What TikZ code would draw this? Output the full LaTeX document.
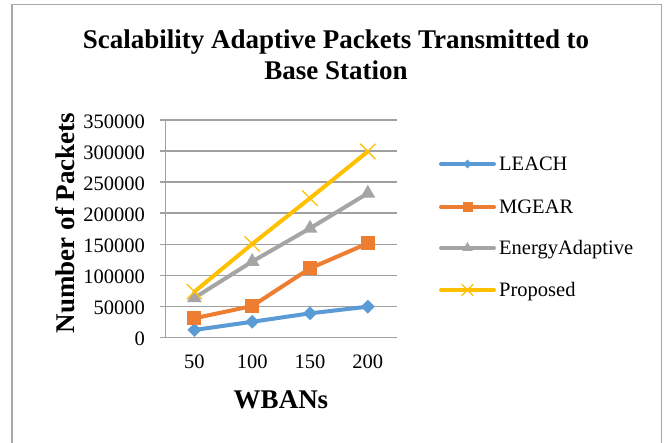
\documentclass[tikz,border=0pt]{standalone}
\usepackage{fontspec}
\setmainfont{Liberation Serif}
\usetikzlibrary{shapes.geometric,shapes.misc}
\definecolor{cblue}{HTML}{5B9BD5}
\definecolor{corange}{HTML}{ED7D31}
\definecolor{cgray}{HTML}{A5A5A5}
\definecolor{cyellow}{HTML}{FFC000}
\definecolor{gridc}{HTML}{A0A0A0}
\definecolor{framec}{HTML}{A8A8A8}
\tikzset{
  lbl/.style={inner sep=0pt,font=\fontsize{20.5bp}{24bp}\selectfont},
  ttl/.style={inner sep=0pt,font=\fontsize{27bp}{31bp}\selectfont\bfseries},
  gridline/.style={draw=gridc,line width=1.3bp},
  series/.style={line width=4bp,line join=round,line cap=round},
  mdia/.style={diamond,fill=cblue,inner sep=0pt,minimum width=#1,minimum height=#1},
  msq/.style={rectangle,fill=corange,inner sep=0pt,minimum size=#1},
  mtri/.style={regular polygon,regular polygon sides=3,fill=cgray,inner sep=0pt,minimum size=#1},
  mcross/.style={cross out,draw=cyellow,line width=1.3bp,inner sep=0pt,minimum size=#1},
}
\begin{document}
\begin{tikzpicture}[x=1bp,y=-1bp]
\useasboundingbox (0,0) rectangle (664,443);
\fill[white] (0,0) rectangle (664,443);
% frame
\draw[framec,line width=1.5bp] (12,443) -- (12,4.3) -- (661.7,4.3) -- (661.7,443);
% title
\node[ttl,anchor=base] (t1) at (336,49) {Scalability Adaptive Packets Transmitted to};
\node[ttl,anchor=base] (t2) at (336,80) {Base Station};
% grid and y labels
\foreach \k/\t in {0/0,1/50000,2/100000,3/150000,4/200000,5/250000,6/300000,7/350000}{
  \pgfmathsetmacro{\yy}{337.3-\k*31.04}
  \draw[gridline] (160,\yy) -- (396.7,\yy);
  \node[lbl,anchor=base east] (yl\k) at (145,\yy+8.2) {\t};
}
\draw[gridline] (165.5,337.3) -- (165.5,120);
% x labels
\foreach \i/\t in {0/50,1/100,2/150,3/200}{
  \node[lbl,anchor=base] (xl\i) at (194.4+\i*57.8,368) {\t};
}
% axis titles
\node[ttl,anchor=base,rotate=90] (ytitle) at (74,223) {Number of Packets};
\node[ttl,anchor=base] (xtitle) at (281,408) {WBANs};
% data
\begin{scope}[shift={(165.5,337.3)},x=57.8bp,y=0.62086bp]
  \foreach \i/\a/\b/\c/\d in {1/11.8/30.6/63.5/73.4,2/25/50.4/122/150.3,3/38.6/111/175.5/224,4/49.3/151.4/232/299.3}{
    \coordinate (L\i) at (\i-0.5,\a);
    \coordinate (M\i) at (\i-0.5,\b);
    \coordinate (E\i) at (\i-0.5,\c);
    \coordinate (P\i) at (\i-0.5,\d);
  }
\end{scope}
\draw[series,cblue] (L1) -- (L2) -- (L3) -- (L4);
\draw[series,corange] (M1) -- (M2) -- (M3) -- (M4);
\draw[series,cgray] (E1) -- (E2) -- (E3) -- (E4);
\draw[series,cyellow] (P1) -- (P2) -- (P3) -- (P4);
\foreach \i in {1,2,3,4}{
  \node[mdia=14bp] (mL\i) at (L\i) {};
  \node[msq=14bp] (mM\i) at (M\i) {};
  \node[mtri=17bp] (mE\i) at (E\i) {};
  \node[mcross=14bp] (mP\i) at (P\i) {};
}
% legend
\foreach \s/\col/\y/\mk/\sz/\t in {L/cblue/164/mdia/9bp/LEACH,M/corange/207/msq/10bp/MGEAR,E/cgray/248/mtri/12bp/EnergyAdaptive,P/cyellow/290/mcross/10bp/Proposed}{
  \coordinate (g\s a) at (441,\y);
  \coordinate (g\s b) at (494,\y);
  \draw[series,\col] (g\s a) -- (g\s b);
  \node[\mk=\sz] (gm\s) at (467.5,\y) {};
  \node[lbl,anchor=base west] (gt\s) at (499,\y+7) {\t};
}
\end{tikzpicture}
\end{document}
